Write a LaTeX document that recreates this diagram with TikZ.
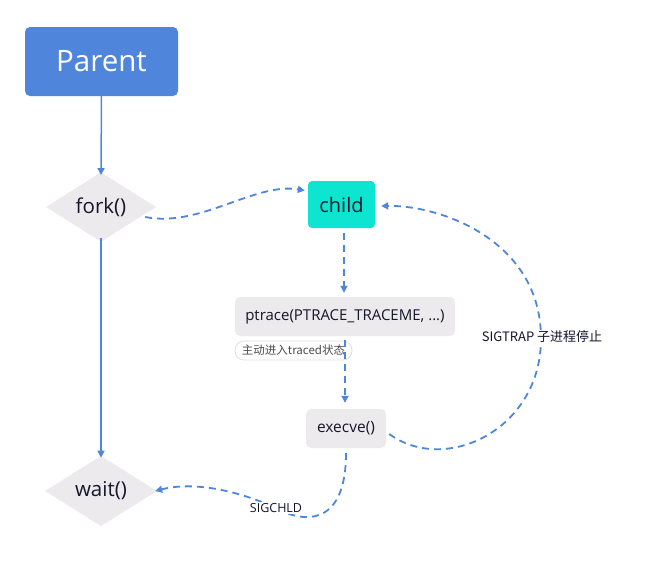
\documentclass[tikz,border=0pt]{standalone}
\usepackage{fontspec}
\setmainfont{Open Sans}
\newfontfamily\cjk{Noto Sans CJK SC}
\usetikzlibrary{shapes.geometric,arrows.meta}
\definecolor{myblue}{HTML}{4F86DB}
\definecolor{mygray}{HTML}{ECEAEC}
\definecolor{myteal}{HTML}{0EE5D0}
\definecolor{mytext}{HTML}{16162A}
\begin{document}
\begin{tikzpicture}[x=1pt,y=-1pt,
  box/.style={rectangle,rounded corners=5pt,fill=mygray,inner sep=0pt,text=mytext},
  dia/.style={diamond,fill=mygray,inner sep=0pt,text=mytext,font=\fontsize{20.5}{24}\selectfont},
  solidarrow/.style={draw=myblue,line width=1.5pt,-{Triangle[length=7pt,width=7pt]}},
  dasharrow/.style={draw=myblue,line width=1.8pt,dash pattern=on 7pt off 5pt,-{Triangle[length=7pt,width=7pt]}},
  lbl/.style={fill=white,inner sep=1pt,text=mytext}
]
\useasboundingbox (0,0) rectangle (659,566);
\node[rectangle,rounded corners=5pt,fill=myblue,text=white,minimum width=153pt,minimum height=69pt,inner sep=0pt,font=\fontsize{29.5}{34}\selectfont] (parent) at (101.5,61.5) {Parent};
\node[dia,minimum width=110pt,minimum height=68pt] (fork) at (101,207) {fork()};
\node[dia,minimum width=112pt,minimum height=68pt] (wait) at (101,491) {wait()};
\node[box,fill=myteal,rounded corners=4pt,minimum width=67pt,minimum height=47pt,font=\fontsize{20}{23}\selectfont] (child) at (341.5,204.5) {child};
\node[box,minimum width=220pt,minimum height=39pt,font=\fontsize{15}{18}\selectfont] (ptrace) at (345,316.5) {ptrace(PTRACE\_TRACEME, ...)};
\node[box,minimum width=80pt,minimum height=39pt,font=\fontsize{15.5}{18}\selectfont] (execve) at (346,428.5) {execve()};
\node[rectangle,rounded corners=9pt,draw=black!12,fill=white,line width=0.8pt,minimum width=117pt,minimum height=19pt,inner sep=0pt,text=black!70,font=\cjk\fontsize{11.5}{13}\selectfont] (note) at (293.5,350.5) {主动进入traced状态};

\draw[solidarrow] ([yshift=4pt]parent.south) -- ([yshift=-3pt]fork.north);
\draw[solidarrow] ([yshift=4pt]fork.south) -- ([yshift=-2pt]wait.north);
\draw[dasharrow] ([shift={(-11,10)}]fork.east) .. controls (200,228) and (255,182) .. ([shift={(-3,-14)}]child.west);
\draw[dasharrow] ([shift={(2.5,5)}]child.south) -- ([shift={(-1,-4)}]ptrace.north);
\draw[dasharrow] ([shift={(0,4)}]ptrace.south) -- ([shift={(-1,-6)}]execve.north);
\draw[dasharrow] ([shift={(3,5.5)}]execve.east) .. controls (445,475) and (542,430) .. (541,337) .. controls (540,240) and (440,205) .. ([shift={(6,1.5)}]child.east);
\node[lbl,font=\cjk\fontsize{13}{15}\selectfont] (sigtrap) at (542,337) {SIGTRAP 子进程停止};
\draw[dasharrow] ([shift={(0,5)}]execve.south) .. controls (346,530) and (300,522) .. (276,508) .. controls (232,488) and (190,482) .. ([shift={(-2,0)}]wait.east);
\node[lbl,font=\fontsize{12.5}{14}\selectfont] (sigchld) at (276,508) {SIGCHLD};
\end{tikzpicture}
\end{document}
